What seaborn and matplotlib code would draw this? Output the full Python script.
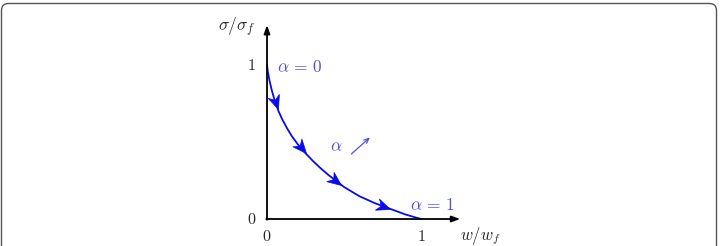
import numpy as np
import pandas as pd
import matplotlib
matplotlib.use("Agg")
import matplotlib.pyplot as plt
import seaborn as sns
from matplotlib.path import Path
from matplotlib.markers import MarkerStyle
from matplotlib.transforms import Affine2D, IdentityTransform
from matplotlib.patches import FancyBboxPatch

# ---- data ----
curve_x = [0.0, 0.005, 0.015, 0.03, 0.05, 0.075, 0.1, 0.13, 0.16, 0.2, 0.25, 0.3,
           0.35, 0.4, 0.5, 0.6, 0.7, 0.8, 0.9, 1.0]
curve_y = [1.0, 0.96, 0.905, 0.84, 0.77, 0.70, 0.645, 0.59, 0.54, 0.485, 0.427, 0.375,
           0.328, 0.285, 0.208, 0.148, 0.103, 0.066, 0.029, 0.0]
arrow_x = [0.07, 0.25, 0.48, 0.80]
x_ticks = [0, 1]
y_ticks = [0, 1]
x_label = r"$w/w_f$"
y_label = r"$\sigma/\sigma_f$"
annotations = [r"$\alpha\,=\,0$", r"$\alpha$", r"$\alpha\,=\,1$"]

sns.set_style("white")
plt.rcParams["mathtext.fontset"] = "cm"

W, H = 721, 246
fig = plt.figure(figsize=(W / 100, H / 100), dpi=100)
ax = fig.add_axes([0, 0, 1, 1])
ox, oy, s = 267.0, 219.0, 154.0
ax.set_xlim(-ox / s, (W - ox) / s)
ax.set_ylim(-(H - oy) / s, oy / s)
ax.axis("off")

# border (pixel coordinates)
box = FancyBboxPatch((1.5, -20), 715.0, H - 3.5 + 20,
                     boxstyle="round,pad=0,rounding_size=7",
                     transform=IdentityTransform(), fill=False, edgecolor="#555555",
                     linewidth=1.0)
fig.patches.append(box)

# axes arrows
ax.annotate("", xy=(1.255, 0), xytext=(-0.005, 0),
            arrowprops=dict(arrowstyle="-|>,head_length=0.5,head_width=0.18",
                            color="black", lw=1.3, shrinkA=0, shrinkB=0))
ax.annotate("", xy=(0, 1.26), xytext=(0, -0.005),
            arrowprops=dict(arrowstyle="-|>,head_length=0.5,head_width=0.18",
                            color="black", lw=1.3, shrinkA=0, shrinkB=0))

# curve
df = pd.DataFrame({"x": curve_x, "y": curve_y})
sns.lineplot(data=df, x="x", y="y", ax=ax, sort=False, color="#0a0af0", lw=1.3)

# stealth arrowheads along the curve
stealth = Path([(0, 0), (-2.0, 0.85), (-1.4, 0), (-2.0, -0.85), (0, 0)],
               [Path.MOVETO, Path.LINETO, Path.LINETO, Path.LINETO, Path.CLOSEPOLY])
cx = np.array(curve_x)
cy = np.array(curve_y)
for xa in arrow_x:
    yv = np.interp(xa, cx, cy)
    i = np.searchsorted(cx, xa)
    i = min(max(i, 1), len(cx) - 1)
    ang = np.degrees(np.arctan2(cy[i] - cy[i - 1], cx[i] - cx[i - 1]))
    m = MarkerStyle(stealth, transform=Affine2D().rotate_deg(ang))
    ax.plot([xa], [yv], marker=m, markersize=20, color="#0a0af0", mec="#0a0af0", mew=0.5)

# tick labels
for t in x_ticks:
    ax.text(t, -0.115, f"${t}$", ha="center", va="center", fontsize=11.5)
for t in y_ticks:
    ax.text(-0.1, t, f"${t}$", ha="center", va="center", fontsize=11.5)

ax.text(-0.075, 1.245, y_label, ha="right", va="center", fontsize=12.5)
ax.text(1.25, -0.108, x_label, ha="left", va="center", fontsize=12)

tc = "#5050dd"
ax.text(0.065, 0.99, annotations[0], ha="left", va="center", fontsize=12.5, color=tc)
ax.text(0.41, 0.47, annotations[1], ha="left", va="center", fontsize=12.5, color=tc)
ax.annotate("", xy=(0.669, 0.53), xytext=(0.548, 0.422),
            arrowprops=dict(arrowstyle="->,head_length=0.35,head_width=0.15",
                            color=tc, lw=0.9, shrinkA=0, shrinkB=0))
ax.text(0.93, 0.09, annotations[2], ha="left", va="center", fontsize=12.5, color=tc)

fig.savefig("out.png", dpi=100, facecolor="white")
